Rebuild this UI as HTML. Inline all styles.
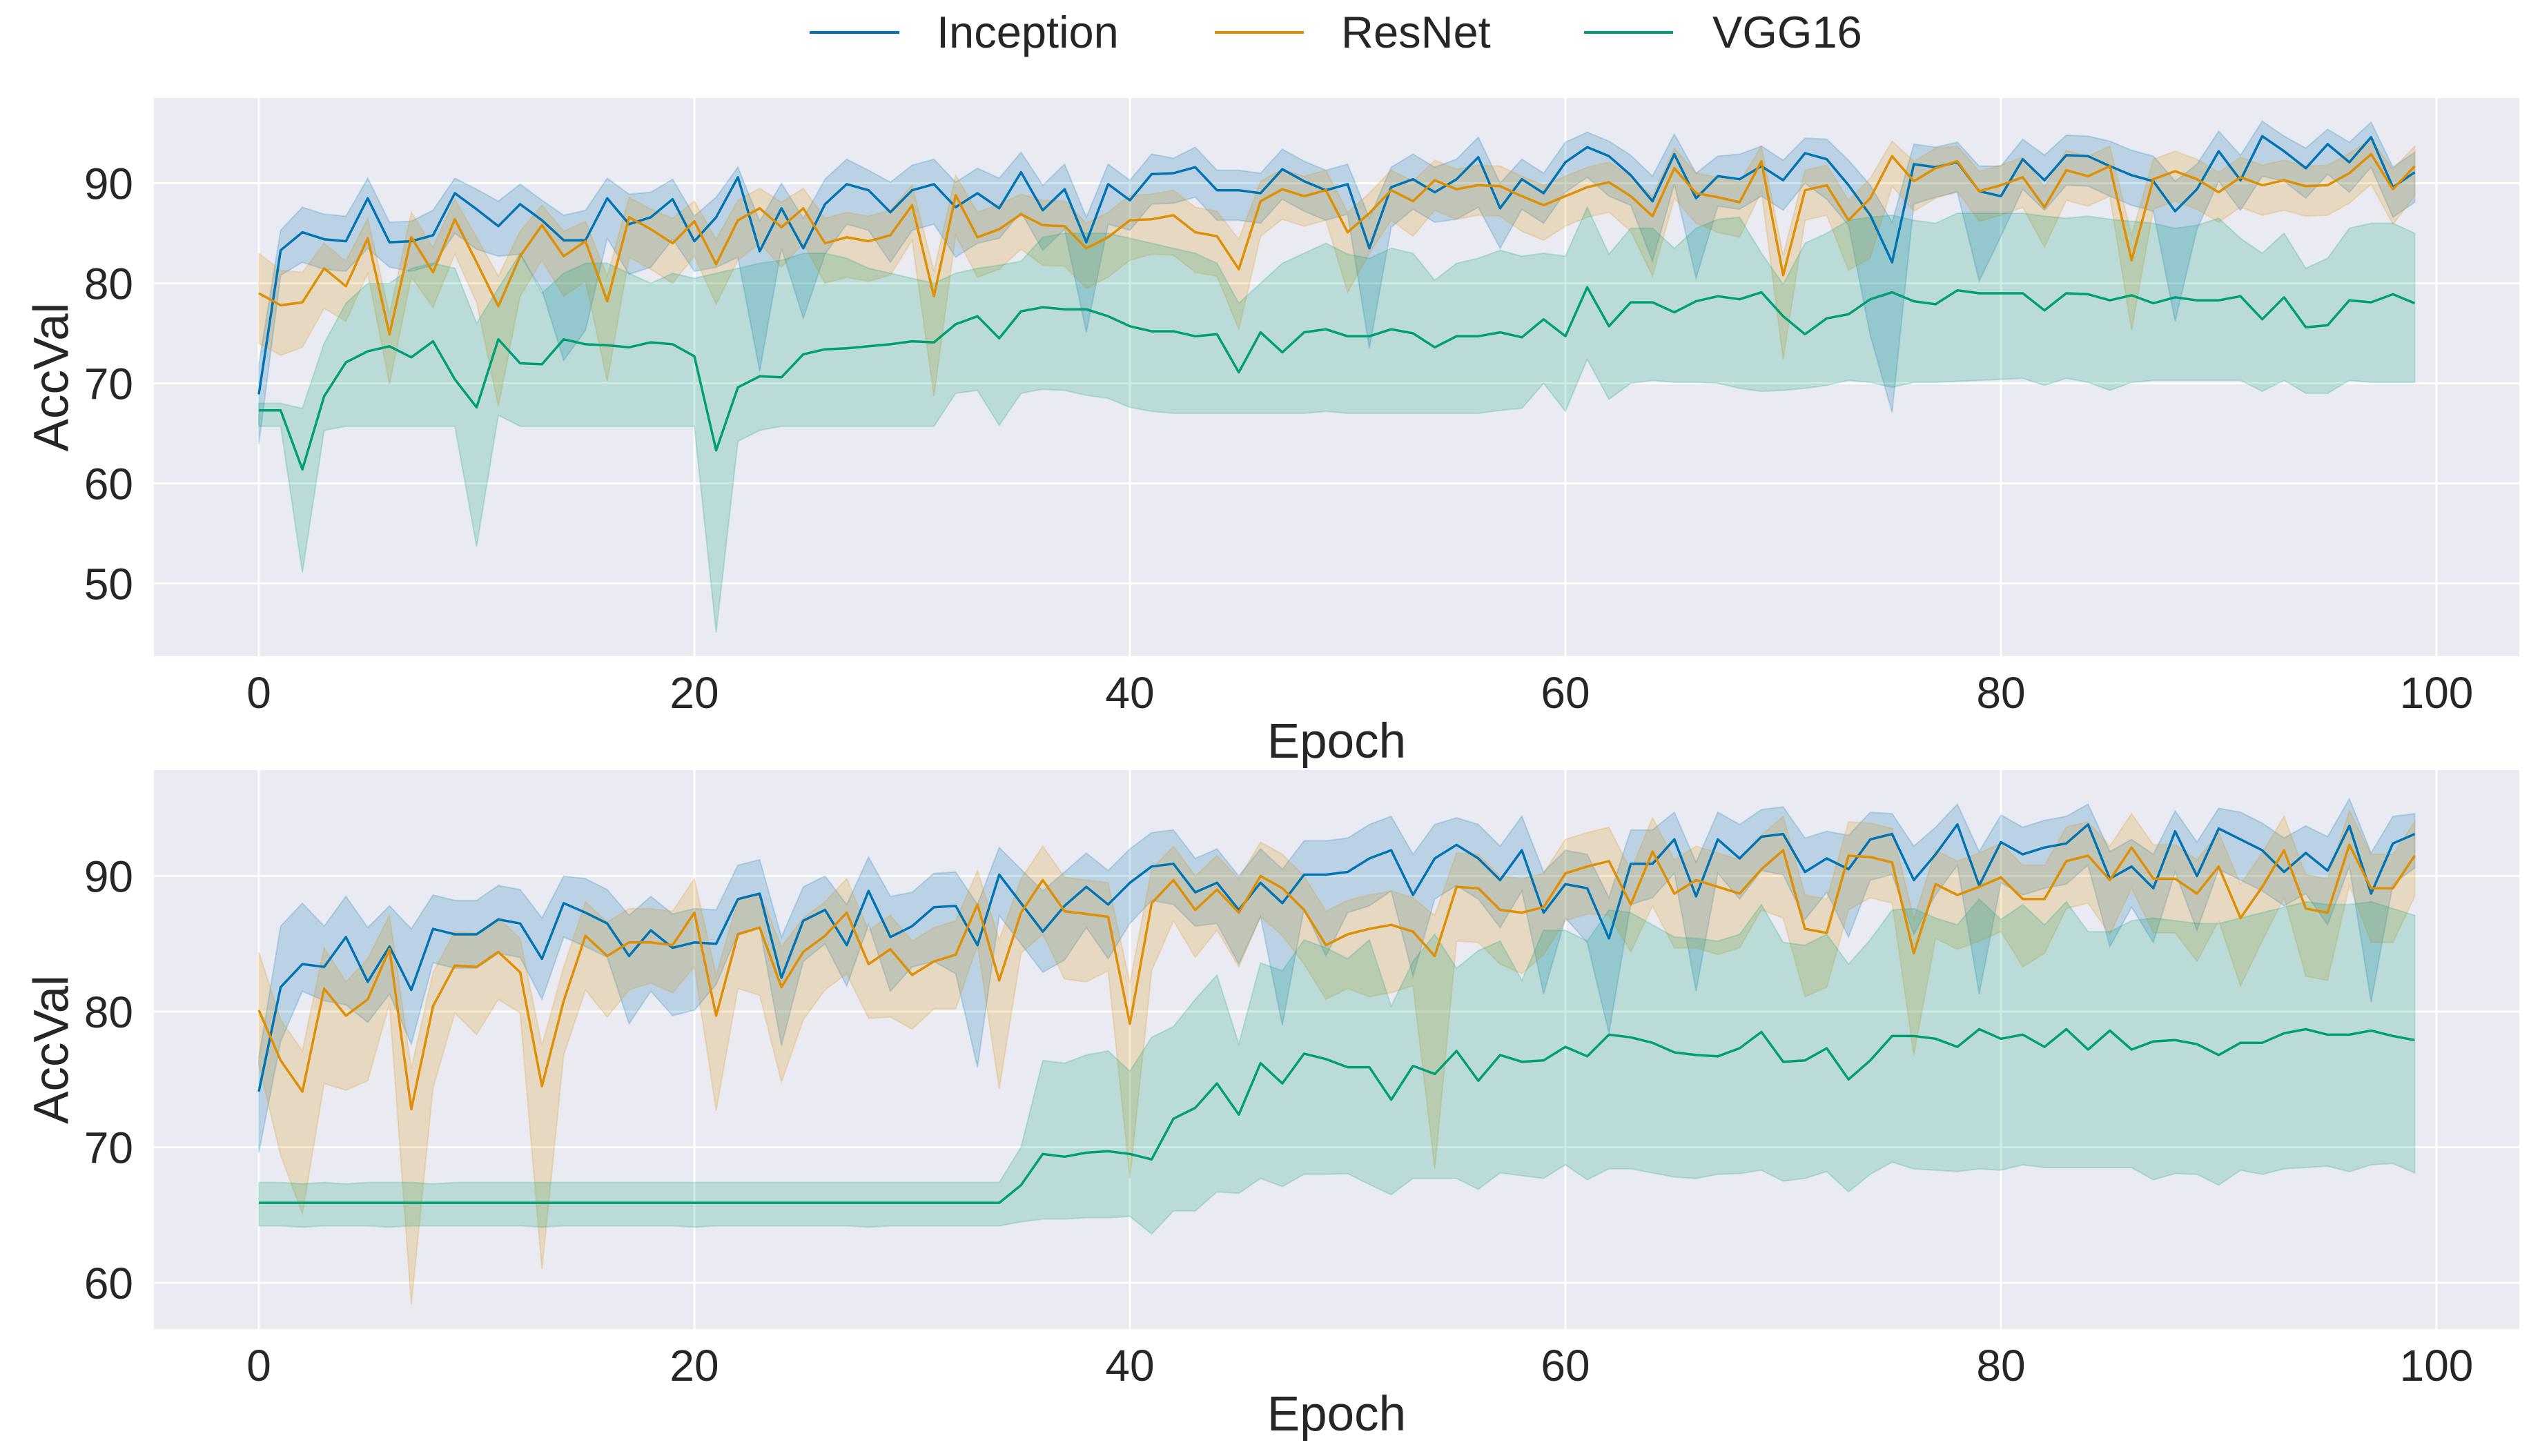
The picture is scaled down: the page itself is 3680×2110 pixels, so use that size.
<!DOCTYPE html>
<html><head><meta charset="utf-8"><style>
html,body{margin:0;padding:0;background:#fff;}
svg{display:block;font-family:"Liberation Sans","DejaVu Sans",sans-serif;}
</style></head><body>
<svg id="chart" width="3680" height="2110" viewBox="0 0 3680 2110" xmlns="http://www.w3.org/2000/svg">
<g>
<g><line x1="1173" y1="47" x2="1303" y2="47" stroke="#0173b2" stroke-width="4"/><text x="1357" y="69" font-size="65" fill="#262626">Inception</text></g>
<g><line x1="1760" y1="47" x2="1889" y2="47" stroke="#de8f05" stroke-width="4"/><text x="1943" y="69" font-size="65" fill="#262626">ResNet</text></g>
<g><line x1="2295" y1="47" x2="2424" y2="47" stroke="#029e73" stroke-width="4"/><text x="2481" y="69" font-size="65" fill="#262626">VGG16</text></g>
</g>
</svg>
<script>
// ---------- DATA ----------
const epochs = Array.from({length:100},(_, i)=>i);
const xTicks = [0,20,40,60,80,100];
const yTicksTop = [50,60,70,80,90];
const yTicksBottom = [60,70,80,90];

// Top panel
const incTop = [68.9,83.3,85.1,84.4,84.2,88.5,84.1,84.2,84.8,89,87.4,85.7,87.9,86.3,84.3,84.3,88.5,85.9,86.6,88.4,84.2,86.6,90.6,83.2,87.5,83.5,87.9,89.9,89.3,87.1,89.3,89.9,87.6,89,87.5,91.1,87.3,89.4,84.1,89.9,88.3,90.9,91,91.6,89.3,89.3,89,91.4,90.2,89.3,
89.9,83.5,89.6,90.4,89.1,90.4,92.6,87.5,90.4,89,92.1,93.6,92.7,90.8,88.2,92.9,88.5,90.7,90.4,91.7,90.3,93,92.4,89.8,86.8,82.1,91.9,91.6,92.1,89.2,88.7,92.4,90.3,92.8,92.7,91.7,90.8,90.2,87.2,89.4,93.2,90.3,94.7,93.2,91.5,93.9,92.1,94.6,89.6,91.1];
const incTopUp = [3,2,2.5,2.5,2.5,2,2,2,2.5,1.5,2,2.5,2,2,2.5,3,2,3,2.5,2,2.5,2,1,3,2.5,3,2.5,2.5,2,3,2.5,2.5,2.5,2.5,3,2,2.5,2.5,2.5,2,2,2,1.5,2,2,2,2,2,2,2,
2,3,2,2.5,2.5,2,2,2.5,2,2,2,1.5,1.5,2,2.5,2,2.5,2,2.5,2,2,1.5,2,2.5,3,4,2,2,2,2.5,3,2,2.5,2,2,2.5,2.5,2.5,3,2.5,2,2.5,1.5,1.5,2,1.5,2,1.5,2,2];
const incTopDn = [5,2.5,3,3,3,5,2.5,3,3,4,4,3,5,7,12,9,4,5,5,4,3,5,8,12,4,7,5,4,4,5,4,4,5,5,3,4,4,4,9,4,3,3,3,3,3,3,3,3,3,3,
3,10,4,3,3,4,5,4,3,3,3,3,4,3,6,3,8,3,3,3,3,3,4,4,12,15,4,3,3,9,4,3,3,3,3,3,3,3,11,4,3,3,4,3,3,3,3,3,3,3];
const resTop = [79,77.8,78.1,81.5,79.7,84.5,74.9,84.6,81.1,86.4,82.1,77.7,82.7,85.8,82.7,84.2,78.2,86.6,85.4,84,86.2,81.9,86.3,87.5,85.6,87.5,84,84.6,84.2,84.8,87.8,78.7,88.8,84.6,85.4,86.9,85.8,85.7,83.5,84.6,86.3,86.4,86.8,85.1,84.7,81.4,88.2,89.4,88.7,89.3,
85.1,87,89.3,88.2,90.3,89.4,89.8,89.7,88.7,87.8,88.7,89.6,90.1,88.7,86.7,91.5,89,88.6,88.1,92.2,80.8,89.3,89.8,86.3,88.5,92.7,90.2,91.5,92.2,89.2,89.8,90.6,87.6,91.3,90.7,91.7,82.3,90.4,91.2,90.4,89.1,90.6,89.8,90.3,89.7,89.8,91,92.9,89.4,91.7];
const resTopUp = [4,3.5,3,2.5,2.5,2,2,2.5,2.5,2,2.5,3,2.5,2,2.5,2,2.5,2,2,2.5,2,2.5,2,2,2.5,2,2.5,2.5,2.5,2.5,2,2.5,2,2.5,2.5,2,2.5,2.5,2.5,2.5,2.5,2.5,2.5,2.5,2.5,3,2,2,2,2,
2,2,2,2,2,2,2,2,2,2,2,2,2,2,2,2,2,2,2,1.5,2,2,2,2,2,1.5,2,2,1.5,2,2,2,2,2,2,2,2.5,2,2,2,2,2,2,2,2,2,2,1.5,2,2];
const resTopDn = [5,5,4.5,4,3.5,3.5,5,4,3.5,3.5,4,10,4,3.5,4,4,8,4,4,4,3.5,4,4,3.5,4,3.5,4,4,4,4,3.5,10,4,4,4,3.5,4,4,4,4,4,3.5,4,4,4,6,3.5,3,3,3,
6,4,3,3.5,3,3,3,3,3.5,3.5,3,3,3,3.5,6,3,3,3.5,3.5,3,8.4,3,3,5,6,3,3,3,3,3,3,3,4,3,3,3,7,3,3,3,3,3,3,3,3,3,3,3,3.5,3];
const vggTop = [67.3,67.3,61.4,68.7,72.1,73.2,73.7,72.6,74.2,70.4,67.6,74.4,72,71.9,74.4,73.9,73.8,73.6,74.1,73.9,72.7,63.3,69.6,70.7,70.6,72.9,73.4,73.5,73.7,73.9,74.2,74.1,75.9,76.7,74.5,77.2,77.6,77.4,77.4,76.7,75.7,75.2,75.2,74.7,74.9,71.1,75.1,73.1,75.1,75.4,
74.7,74.7,75.4,75,73.6,74.7,74.7,75.1,74.6,76.4,74.7,79.6,75.7,78.1,78.1,77.1,78.2,78.7,78.4,79.1,76.7,74.9,76.5,76.9,78.4,79.1,78.2,77.9,79.3,79,79,79,77.3,79,78.9,78.3,78.8,78,78.6,78.3,78.3,78.7,76.4,78.6,75.6,75.8,78.3,78.1,78.9,78];
const vggTopHi = [68,68,67.5,74,78,80,80,81.5,82,81.5,76,79.5,83,79,81,82,82,81,80,81,80.5,81,81.5,82,82.3,83,83,82.5,81.5,81,80.5,80,81,81.5,81.8,82.2,84.6,85,85,85,84.5,84,83.5,83,82,78,80,82,83,84,
82.9,82.5,83.5,83,80.3,82,82.5,83.3,82.7,83,82.7,87.6,82.9,85.5,85.5,83.5,85.5,86.4,86.6,83,79.9,84,85,86.3,86.6,86.8,86.3,86,87,87,87,87,86.7,86.5,86.7,86.4,86.2,86,85.5,85.8,86.5,84.5,83,85,81.5,82.5,85.5,86,86,85];
const vggTopLo = [65.7,65.7,51.1,65.3,65.7,65.7,65.7,65.7,65.7,65.7,53.7,66.8,65.7,65.7,65.7,65.7,65.7,65.7,65.7,65.7,65.7,45.1,64.2,65.3,65.7,65.7,65.7,65.7,65.7,65.7,65.7,65.7,69,69.3,65.8,69,69.4,69.3,68.8,68.5,67.6,67.2,67,67,67,67,67,67,67,67.2,
67,67,67,67,67,67,67,67.3,67.5,70,67.2,72.4,68.4,70,70.3,70.1,70.1,70,69.5,69.2,69.3,69.5,69.8,70.3,70.1,69.6,70.1,70.1,70.2,70.3,70.4,70.5,69.8,70.5,70.1,69.3,70.1,70.3,70.3,70.3,70.3,70.3,69.2,70.3,69,69,70.3,70.1,70.1,70.1];

// Bottom panel
const incBot = [74.1,81.8,83.5,83.3,85.5,82.2,84.8,81.6,86.1,85.7,85.7,86.8,86.5,83.9,88,87.3,86.5,84.1,86,84.7,85.1,85,88.3,88.7,82.5,86.7,87.5,84.9,88.9,85.5,86.3,87.7,87.8,84.9,90.1,88,85.9,87.8,89.2,87.9,89.5,90.7,90.9,88.8,89.5,87.5,89.5,88,90.1,90.1,
90.3,91.3,91.9,88.6,91.3,92.3,91.3,89.7,91.9,87.3,89.4,89.1,85.4,90.9,90.9,92.7,88.5,92.7,91.3,92.9,93.1,90.3,91.3,90.5,92.7,93.1,89.7,91.6,93.8,89.3,92.5,91.6,92.1,92.4,93.8,89.8,90.7,89.1,93.3,90,93.5,92.7,91.9,90.3,91.7,90.4,93.7,88.7,92.4,93.1];
const incBotUp = [2.5,4.5,4.5,3,3,4,3,4.5,2.5,2.5,2.5,2.5,2.5,3,2,2.5,2.5,3,2.5,2.5,2.5,2.5,2.5,2.5,3,2.5,2.5,3,2.5,3,2.5,2.5,2.5,3,2,2.5,3,2.5,2.5,2.5,2.5,2.5,2.5,2.5,2.5,2.5,2.5,2.5,2.5,2.5,
2.5,2.5,2.5,3,2.5,2,2.5,2.5,2.5,3,2.5,2.5,3,2.5,2.5,2,2.5,2,2.5,2,2,2.5,2,2.5,2,1.5,2.5,2,1.5,2.5,2,2,2,2,1.5,2,2,2.5,1.5,2.5,1.5,2,2,2.5,2,2.5,2,3,2,1.5];
const incBotDn = [4.5,4,2,2.5,5,3,3.5,4,2.5,2.5,2.5,2.5,2.5,3,2.5,2.5,2.5,5,4.5,5,5,3,2.5,2.5,5,3,2.5,3,2.5,4,3,4,5,9,3,3,3,4,3,4,3,2.5,3,2.5,3,4,2.5,9,2.5,6,
3,3.5,3,6,3,3,3,3.5,3,6,2.5,4,7,3,2.5,2.5,7,2.5,3,2.5,3,3.5,2.5,5,3,3,4,3,3,8,3,3,3,3,3,5,3,4,3,4,3,3,3,2.5,3,4,3,8,3,2.5];
const resBot = [80.1,76.4,74.1,81.7,79.7,80.9,84.6,72.8,80.4,83.4,83.3,84.4,82.9,74.5,80.8,85.6,84.1,85.1,85.1,84.9,87.3,79.7,85.7,86.2,81.8,84.4,85.6,87.3,83.5,84.6,82.7,83.7,84.2,87.9,82.3,87.3,89.7,87.4,87.2,87,79.1,88,89.7,87.5,89,87.3,90,89.1,87.5,84.9,
85.7,86.1,86.4,85.9,84.1,89.2,89.1,87.5,87.3,87.7,90.2,90.7,91.1,87.9,91.8,88.7,89.7,89.2,88.7,90.5,91.9,86.1,85.8,91.5,91.4,91,84.3,89.4,88.6,89.2,89.9,88.3,88.3,91.1,91.5,89.7,92.1,89.8,89.8,88.7,90.7,86.9,89.2,91.9,87.6,87.3,92.3,89.1,89.1,91.5];
const resBotUp = [4.3,3,3,3,2.5,3,2.5,3,2.5,2.5,2.5,2.5,2.5,3,2.5,2.5,2.5,2.5,2.5,2.5,2.5,3,2.5,2.5,3,2.5,2.5,2.5,2.5,2.5,2.5,2.5,2.5,2.5,3,2.5,2.5,2.5,2.5,2.5,3,2.5,2.5,2.5,2.5,2.5,2.5,2.5,2.5,2.5,
2.5,2.5,2.5,2.5,3,2.5,2.5,2.5,2.5,2.5,2.5,2.5,2.5,2.5,2.5,2.5,2.5,2.5,2.5,2.5,2.5,2.5,2.5,2.5,2.5,2.5,2.5,2.5,2.5,2.5,2.5,2.5,2.5,2.5,2.5,2.5,2.5,2.5,2.5,2.5,2.5,2.5,2.5,2.5,2.5,2.5,2.5,2.5,2.5,2.5];
const resBotDn = [4,7,9,7,5.5,6,4,14.4,6,3.5,5,3.5,3,13.5,4,4,4.5,3.5,3,3.5,4,7,4,5,7,5,4,4.5,4,5,4,3.5,4,3,8,3,4,5,5,4,11.4,5,3,3.5,3,4,3,3.5,4,4,
4,5,5,4,15.7,4,4,4,4.5,3.5,3.5,3.5,4,3.5,4,4,5,5,4,3,5,5,4,4,3,3,7.5,4,4,4,4,5,4,3.5,3.5,4,3,4,4,5,4,5,4,3.5,5,5,3,4,4,3];
const vggBot = [65.9,65.9,65.9,65.9,65.9,65.9,65.9,65.9,65.9,65.9,65.9,65.9,65.9,65.9,65.9,65.9,65.9,65.9,65.9,65.9,65.9,65.9,65.9,65.9,65.9,65.9,65.9,65.9,65.9,65.9,65.9,65.9,65.9,65.9,65.9,67.2,69.5,69.3,69.6,69.7,69.5,69.1,72.1,72.9,74.7,72.4,76.2,74.7,76.9,76.5,
75.9,75.9,73.5,76,75.4,77.1,74.9,76.8,76.3,76.4,77.4,76.7,78.3,78.1,77.7,77,76.8,76.7,77.3,78.5,76.3,76.4,77.3,75,76.4,78.2,78.2,78,77.4,78.7,78,78.3,77.4,78.7,77.2,78.6,77.2,77.8,77.9,77.6,76.8,77.7,77.7,78.4,78.7,78.3,78.3,78.6,78.2,77.9];
const vggBotHi = [67.4,67.4,67.3,67.4,67.3,67.4,67.4,67.4,67.3,67.4,67.4,67.4,67.4,67.4,67.4,67.4,67.4,67.4,67.4,67.4,67.4,67.4,67.4,67.4,67.4,67.4,67.4,67.4,67.4,67.4,67.4,67.4,67.4,67.4,67.4,70,76.4,76.2,76.8,77.1,75.6,78.1,78.9,80.9,82.7,77.6,83.6,83,85.3,84.7,
83.9,85.3,80.4,83.7,85.7,83.2,84.5,85.2,82.3,86,86,85.2,87.5,87.3,86.4,85.5,85.4,85.2,85.7,87.9,85.1,84.9,85.7,83.5,85.3,87.5,87.6,86.9,86.4,88.3,86.8,87.9,86.4,88.1,85.9,85.9,86.7,86.9,86.7,86.5,86.5,86.9,87.3,87.7,88.1,87.9,87.9,88.1,87.6,87.1];
const vggBotLo = [64.2,64.2,64.1,64.2,64.2,64.2,64.1,64.2,64.2,64.2,64.2,64.2,64.2,64.1,64.2,64.2,64.2,64.2,64.2,64.2,64.1,64.2,64.2,64.2,64.2,64.2,64.2,64.2,64.1,64.2,64.2,64.2,64.2,64.2,64.2,64.5,64.7,64.7,64.8,64.8,64.9,63.6,65.3,65.3,66.7,66.6,67.7,67.1,68,68,
68.05,67.25,66.5,67.7,67.7,67.7,66.9,68.1,67.9,67.7,68.7,67.6,68.4,68.4,68.1,67.8,67.7,68,68.05,68.3,67.5,67.7,68.2,66.7,68,68.9,68.4,68.3,68.2,68.4,68.3,68.7,68.5,68.5,68.5,68.5,68.5,67.6,68.05,68,67.2,68.3,68,68.4,68.5,68.6,68.2,68.7,68.8,68.1];

// ---------- DRAW ----------
const NS = "http://www.w3.org/2000/svg";
const svg = document.getElementById('chart');
const X0 = 223, X1 = 3650;
function xScale(e){ return 375 + (e - 0) * 31.55; }
const colors = {inc:'#0173b2', res:'#de8f05', vgg:'#029e73'};

function mk(tag, attrs, parent){
  const el = document.createElementNS(NS, tag);
  for (const k in attrs) el.setAttribute(k, attrs[k]);
  parent.appendChild(el);
  return el;
}

function drawPanel(name, top, bottom, yScale, yTicks, series){
  const g = mk('g', {}, svg);
  
  
  const bg = mk('rect', {x:X0, y:top, width:X1-X0, height:bottom-top, fill:'#eaeaf2'}, g);
  
  
  xTicks.forEach(t=>{
    const x = xScale(t);
    const gl = mk('line', {x1:x, x2:x, y1:top, y2:bottom, stroke:'#fff', 'stroke-width':3}, g);
    
    
    const tl = mk('text', {x:x, y:bottom+75, 'font-size':64, fill:'#262626', 'text-anchor':'middle'}, g);
    
    
    tl.textContent = t;
  });
  yTicks.forEach(t=>{
    const y = yScale(t);
    const gl = mk('line', {x1:X0, x2:X1, y1:y, y2:y, stroke:'#fff', 'stroke-width':3}, g);
    
    
    const tl = mk('text', {x:193, y:y+23, 'font-size':64, fill:'#262626', 'text-anchor':'end'}, g);
    
    
    tl.textContent = t;
  });
  const clipId = name + '-clip';
  const cp = mk('clipPath', {id:clipId}, g);
  mk('rect', {x:X0, y:top, width:X1-X0, height:bottom-top}, cp);
  const dg = mk('g', {'clip-path':'url(#'+clipId+')'}, g);
  series.forEach(s=>{
    let up = [], dn = [];
    epochs.forEach((e,i)=>{
      const hi = s.hi ? s.hi[i] : s.mean[i] + s.up[i];
      const lo = s.lo ? s.lo[i] : s.mean[i] - s.dn[i];
      up.push(xScale(e).toFixed(1)+','+yScale(hi).toFixed(1));
      dn.unshift(xScale(e).toFixed(1)+','+yScale(lo).toFixed(1));
    });
    const band = mk('polygon', {points:up.concat(dn).join(' '), fill:s.color, 'fill-opacity':0.2, stroke:s.color, 'stroke-opacity':0.2, 'stroke-width':2}, dg);
    
    
  });
  series.forEach(s=>{
    const pts = epochs.map((e,i)=>xScale(e).toFixed(1)+','+yScale(s.mean[i]).toFixed(1)).join(' ');
    const ln = mk('polyline', {points:pts, fill:'none', stroke:s.color, 'stroke-width':3.5, 'stroke-linejoin':'round'}, dg);
    
    
  });
  const xl = mk('text', {x:(X0+X1)/2, y:bottom+147, 'font-size':71, fill:'#262626', 'text-anchor':'middle'}, g);
  
  
  xl.textContent = 'Epoch';
  const cy = (top+bottom)/2;
  const yl = mk('text', {x:75, y:cy, 'font-size':71, fill:'#262626', 'text-anchor':'middle', transform:'rotate(-90 75 '+cy+')', 'dominant-baseline':'central'}, g);
  
  
  yl.textContent = 'AccVal';
}

drawPanel('top-panel', 142, 951, v => 265.5 + (90 - v) * 14.5, yTicksTop, [
  {key:'inception', color:colors.inc, mean:incTop, up:incTopUp, dn:incTopDn},
  {key:'resnet', color:colors.res, mean:resTop, up:resTopUp, dn:resTopDn},
  {key:'vgg16', color:colors.vgg, mean:vggTop, hi:vggTopHi, lo:vggTopLo}
]);
drawPanel('bottom-panel', 1116, 1926, v => 1269.5 + (90 - v) * 19.65, yTicksBottom, [
  {key:'inception', color:colors.inc, mean:incBot, up:incBotUp, dn:incBotDn},
  {key:'resnet', color:colors.res, mean:resBot, up:resBotUp, dn:resBotDn},
  {key:'vgg16', color:colors.vgg, mean:vggBot, hi:vggBotHi, lo:vggBotLo}
]);
</script>
</body></html>
